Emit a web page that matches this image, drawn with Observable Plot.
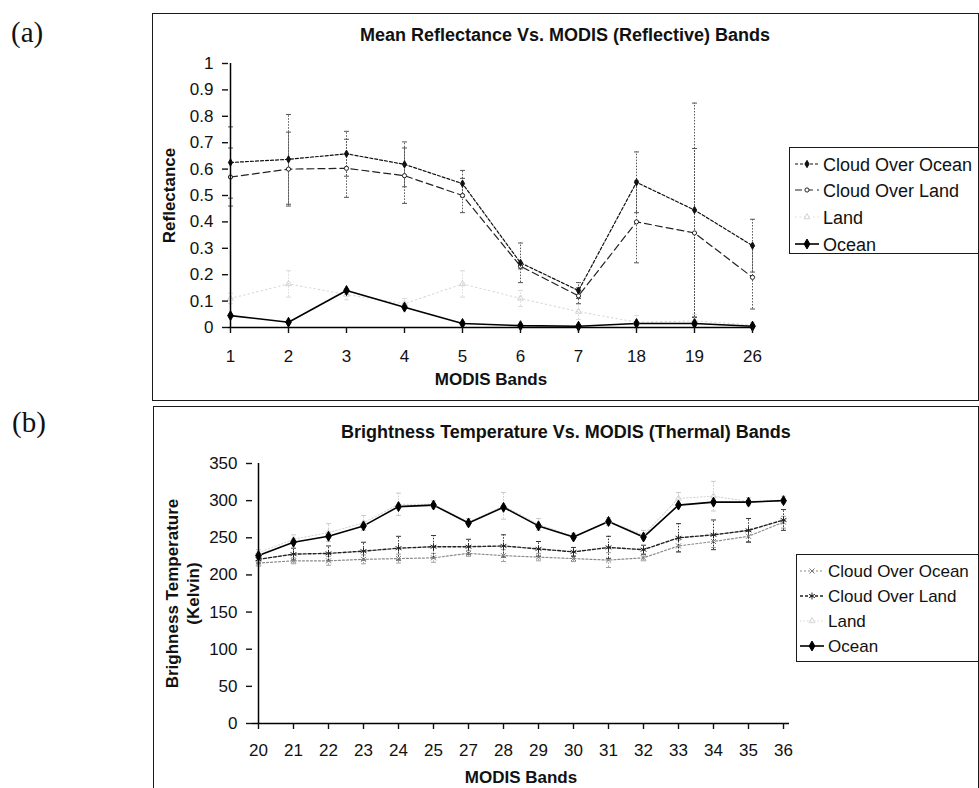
<!DOCTYPE html>
<html>
<head>
<meta charset="utf-8">
<script src="https://cdn.jsdelivr.net/npm/d3@7"></script>
<script src="https://cdn.jsdelivr.net/npm/@observablehq/plot@0.6"></script>
<style>
  body { margin: 0; background: #fff; }
  #page { position: relative; width: 979px; height: 788px; overflow: hidden; background: #fff;
          font-family: "Liberation Sans", Arial, Helvetica, sans-serif; color: #111; }
  .frame { position: absolute; border: 1.5px solid #1a1a1a; box-sizing: border-box; }
  .title { position: absolute; text-align: center; font-weight: bold; font-size: 18px; line-height: 22px; white-space: nowrap; }
  .tag { position: absolute; font-family: "Liberation Serif", "Times New Roman", serif; font-size: 29px; line-height: 32px; }
  .legend { position: absolute; border: 1.5px solid #1a1a1a; box-sizing: border-box; background: #fff; }
  .legend .row { position: absolute; height: 24px; display: flex; align-items: center; white-space: nowrap; }
  .legend svg { position: absolute; overflow: visible; }
  .chart { position: absolute; }
</style>
</head>
<body>
<div id="page"></div>
<script>
// ---- (a) mean reflectance, reflective MODIS bands ----
const reflBands = ["1", "2", "3", "4", "5", "6", "7", "18", "19", "26"];
const reflTicks = [0, 0.1, 0.2, 0.3, 0.4, 0.5, 0.6, 0.7, 0.8, 0.9, 1];
const reflCloudOcean    = [0.625, 0.637, 0.658, 0.618, 0.545, 0.245, 0.14, 0.55, 0.445, 0.31];
const reflCloudOceanErr = [0.135, 0.17, 0.085, 0.085, 0.05, 0.075, 0.03, 0.115, 0.405, 0.10];
const reflCloudLand     = [0.57, 0.60, 0.603, 0.575, 0.50, 0.232, 0.12, 0.40, 0.358, 0.19];
const reflCloudLandErr  = [0.11, 0.14, 0.11, 0.105, 0.065, 0.01, 0.03, 0.155, 0.32, 0.12];
const reflLand          = [0.11, 0.165, 0.125, 0.09, 0.165, 0.11, 0.06, 0.02, 0.025, 0.01];
const reflLandErr       = [0.02, 0.05, 0.02, 0.02, 0.05, 0.03, 0.03, 0.025, 0.025, 0.01];
const reflOcean         = [0.045, 0.02, 0.14, 0.077, 0.015, 0.007, 0.005, 0.015, 0.015, 0.005];

// ---- (b) brightness temperature, thermal MODIS bands ----
const thermBands = ["20", "21", "22", "23", "24", "25", "27", "28", "29", "30", "31", "32", "33", "34", "35", "36"];
const thermTicks = [0, 50, 100, 150, 200, 250, 300, 350];
const thermCloudOcean    = [216, 219, 219, 221, 222, 223, 229, 226, 224, 222, 220, 223, 239, 245, 252, 271];
const thermCloudOceanErr = [4, 4, 6, 6, 6, 6, 4, 8, 5, 4, 10, 4, 8, 8, 7, 8];
const thermCloudLand     = [221, 228, 229, 232, 236, 238, 238, 239, 235, 231, 237, 234, 250, 254, 260, 274];
const thermCloudLandErr  = [5, 8, 10, 12, 16, 15, 10, 15, 10, 6, 15, 6, 19, 20, 16, 14];
const thermLand          = [230, 248, 257, 270, 295, 295, 271, 293, 268, 252, 272, 254, 303, 306, 299, 301];
const thermLandErr       = [4, 6, 12, 10, 15, 5, 5, 18, 8, 4, 5, 6, 8, 20, 5, 5];
const thermOcean         = [226, 244, 252, 266, 292, 294, 270, 291, 266, 251, 272, 251, 294, 298, 298, 300];

const seriesNames = ["Cloud Over Ocean", "Cloud Over Land", "Land", "Ocean"];

// drawing styles for each series, per panel
const reflStyles = {
  "Cloud Over Ocean": {stroke: "#111", dash: "3,2", width: 1.2, symbol: "diamond", r: 2.2, fill: "#111", mstroke: "#111", bar: "#555"},
  "Cloud Over Land":  {stroke: "#222", dash: "7,4", width: 1.2, symbol: "circle", r: 2.1, fill: "#fff", mstroke: "#222", bar: "#555"},
  "Land":             {stroke: "#dadada", dash: "1.5,3", width: 1.1, symbol: "triangle", r: 2.2, fill: "none", mstroke: "#d2d2d2", bar: "#dadada"},
  "Ocean":            {stroke: "#000", dash: null, width: 1.6, symbol: "diamond", r: 3, fill: "#000", mstroke: "#000", bar: null}
};
const thermStyles = {
  "Cloud Over Ocean": {stroke: "#8a8a8a", dash: "2,2", width: 1.2, symbol: "times", r: 2.4, fill: "none", mstroke: "#777", bar: "#a0a0a0"},
  "Cloud Over Land":  {stroke: "#222", dash: "3,2", width: 1.4, symbol: "asterisk", r: 3.2, fill: "none", mstroke: "#222", bar: "#333"},
  "Land":             {stroke: "#d8d8d8", dash: "1.5,2", width: 1.1, symbol: "triangle", r: 2.2, fill: "none", mstroke: "#d6d6d6", bar: "#cacaca"},
  "Ocean":            {stroke: "#000", dash: null, width: 1.6, symbol: "diamond", r: 3, fill: "#000", mstroke: "#000", bar: null}
};

// short horizontal cap drawn at each end of an error bar
const capSymbol = {
  draw(context, size) {
    const w = Math.sqrt(size / Math.PI);
    context.moveTo(-w, 0);
    context.lineTo(w, 0);
  }
};

function tidy(bands, series) {
  const rows = [];
  for (const [name, values, err] of series) {
    values.forEach((v, i) => rows.push({series: name, band: bands[i], v, e: err ? err[i] : 0}));
  }
  return rows;
}

const reflRows = tidy(reflBands, [
  ["Cloud Over Ocean", reflCloudOcean, reflCloudOceanErr],
  ["Cloud Over Land", reflCloudLand, reflCloudLandErr],
  ["Land", reflLand, reflLandErr],
  ["Ocean", reflOcean, null]
]);
const thermRows = tidy(thermBands, [
  ["Cloud Over Ocean", thermCloudOcean, thermCloudOceanErr],
  ["Cloud Over Land", thermCloudLand, thermCloudLandErr],
  ["Land", thermLand, thermLandErr],
  ["Ocean", thermOcean, null]
]);

// error bars (dotted rules with short caps) drawn first, then lines, then markers
function seriesMarks(rows, styles, drawOrder) {
  const marks = [];
  for (const name of drawOrder) {
    const st = styles[name];
    const data = rows.filter(d => d.series === name);
    if (st.bar) {
      const withErr = data.filter(d => d.e > 0);
      marks.push(Plot.ruleX(withErr, {x: "band", y1: d => d.v - d.e, y2: d => d.v + d.e,
        stroke: st.bar, strokeWidth: 1, strokeDasharray: "1.5,1.5"}));
      for (const f of [d => d.v - d.e, d => d.v + d.e]) {
        marks.push(Plot.dot(withErr, {x: "band", y: f, symbol: capSymbol, r: 2.5,
          fill: "none", stroke: st.bar, strokeWidth: 1}));
      }
    }
  }
  for (const name of drawOrder) {
    const st = styles[name];
    const data = rows.filter(d => d.series === name);
    marks.push(Plot.line(data, {x: "band", y: "v", stroke: st.stroke, strokeWidth: st.width,
      strokeDasharray: st.dash || undefined}));
  }
  for (const name of drawOrder) {
    const st = styles[name];
    const data = rows.filter(d => d.series === name);
    marks.push(Plot.dot(data, {x: "band", y: "v", symbol: st.symbol, r: st.r,
      fill: st.fill, stroke: st.mstroke, strokeWidth: 1}));
  }
  return marks;
}

const fontStyle = {fontFamily: '"Liberation Sans", Arial, Helvetica, sans-serif', fontSize: "17px",
  color: "#111", background: "transparent", overflow: "visible"};

const chartA = Plot.plot({
  width: 826, height: 388,
  marginLeft: 76, marginRight: 225, marginTop: 50, marginBottom: 74,
  style: fontStyle,
  x: {type: "point", domain: reflBands, padding: 0, label: null},
  y: {domain: [0, 1], label: null},
  marks: [
    ...seriesMarks(reflRows, reflStyles, ["Land", "Cloud Over Land", "Cloud Over Ocean", "Ocean"]),
    Plot.ruleY([0], {stroke: "#000", strokeWidth: 1.5}),
    Plot.ruleX([reflBands[0]], {x: d => d, y1: 0, y2: 1, stroke: "#000", strokeWidth: 1.5}),
    Plot.axisX({tickSize: 6, tickPadding: 16, fontSize: 17, strokeWidth: 1.4, label: null}),
    Plot.axisY({ticks: reflTicks, tickSize: 6, tickPadding: 9, fontSize: 17, strokeWidth: 1.4, label: null,
      tickFormat: d => (d === 0 || d === 1) ? String(d) : d.toFixed(1)}),
    Plot.text(["MODIS Bands"], {frameAnchor: "bottom", lineAnchor: "middle", dy: 52,
      fontWeight: "bold", fontSize: 17}),
    Plot.text(["Reflectance"], {frameAnchor: "left", textAnchor: "middle", lineAnchor: "middle",
      rotate: -90, dx: -59, fontWeight: "bold", fontSize: 17})
  ]
});

const chartB = Plot.plot({
  width: 825, height: 390,
  marginLeft: 99, marginRight: 189, marginTop: 57, marginBottom: 73,
  style: fontStyle,
  x: {type: "point", domain: thermBands, padding: 0, label: null},
  y: {domain: [0, 350], label: null},
  marks: [
    ...seriesMarks(thermRows, thermStyles, ["Land", "Cloud Over Ocean", "Cloud Over Land", "Ocean"]),
    Plot.ruleY([0], {stroke: "#000", strokeWidth: 1.5}),
    Plot.ruleX([thermBands[0]], {x: d => d, y1: 0, y2: 350, stroke: "#000", strokeWidth: 1.5}),
    Plot.axisX({tickSize: 6, tickPadding: 14, fontSize: 17, strokeWidth: 1.4, label: null}),
    Plot.axisY({ticks: thermTicks, tickSize: 6, tickPadding: 9, fontSize: 17, strokeWidth: 1.4, label: null,
      tickFormat: d => String(d)}),
    Plot.text(["MODIS Bands"], {frameAnchor: "bottom", lineAnchor: "middle", dy: 54,
      fontWeight: "bold", fontSize: 17}),
    Plot.text(["Brighness Temperature\n(Kelvin)"], {frameAnchor: "left", textAnchor: "middle",
      lineAnchor: "middle", rotate: -90, dx: -71, lineHeight: 1.25, fontWeight: "bold", fontSize: 17})
  ]
});

// ---- page assembly ----
const page = document.getElementById("page");

function box(cls, left, top, width, height) {
  const el = document.createElement("div");
  el.className = cls;
  Object.assign(el.style, {left: left + "px", top: top + "px", width: width + "px", height: height + "px"});
  page.appendChild(el);
  return el;
}
function label(cls, text, left, top, width) {
  const el = document.createElement("div");
  el.className = cls;
  el.textContent = text;
  el.style.left = left + "px";
  el.style.top = top + "px";
  if (width) el.style.width = width + "px";
  page.appendChild(el);
  return el;
}

box("frame", 152, 13, 827, 388);
box("frame", 153, 406, 826, 400);

chartA.classList.add("chart");
chartA.style.left = "152px"; chartA.style.top = "13px";
page.appendChild(chartA);
chartB.classList.add("chart");
chartB.style.left = "153px"; chartB.style.top = "406px";
page.appendChild(chartB);

label("title", "Mean Reflectance Vs. MODIS (Reflective) Bands", 152, 24, 826);
label("title", "Brightness Temperature Vs. MODIS (Thermal) Bands", 153, 421, 826);
label("tag", "(a)", 11, 16);
label("tag", "(b)", 12, 406);

const symbolTypes = {diamond: d3.symbolDiamond, circle: d3.symbolCircle, triangle: d3.symbolTriangle,
  times: d3.symbolTimes, asterisk: d3.symbolAsterisk};

function legend(left, top, width, height, firstRow, step, textLeft, fontSize, styles) {
  const el = box("legend", left, top, width, height);
  seriesNames.forEach((name, i) => {
    const st = styles[name];
    const cy = firstRow + i * step - top;
    const row = document.createElement("div");
    row.className = "row";
    row.style.left = (textLeft - left) + "px";
    row.style.top = (cy - 12) + "px";
    row.style.fontSize = fontSize + "px";
    row.textContent = name;
    el.appendChild(row);
    const svg = d3.create("svg").attr("width", 26).attr("height", 12)
      .style("left", (textLeft - left - 30) + "px").style("top", (cy - 6 - 1.5) + "px");
    svg.append("line").attr("x1", 2).attr("x2", 26).attr("y1", 6).attr("y2", 6)
      .attr("stroke", st.stroke).attr("stroke-width", st.width)
      .attr("stroke-dasharray", st.dash);
    svg.append("path").attr("transform", "translate(14,6)")
      .attr("d", d3.symbol(symbolTypes[st.symbol], Math.PI * st.r * st.r)())
      .attr("fill", st.fill).attr("stroke", st.mstroke).attr("stroke-width", 1);
    el.appendChild(svg.node());
  });
}

legend(789, 147, 190, 107, 164, 26.7, 822, 18, reflStyles);
legend(796, 554, 183, 108, 571, 25, 827, 17, thermStyles);
</script>
</body>
</html>
